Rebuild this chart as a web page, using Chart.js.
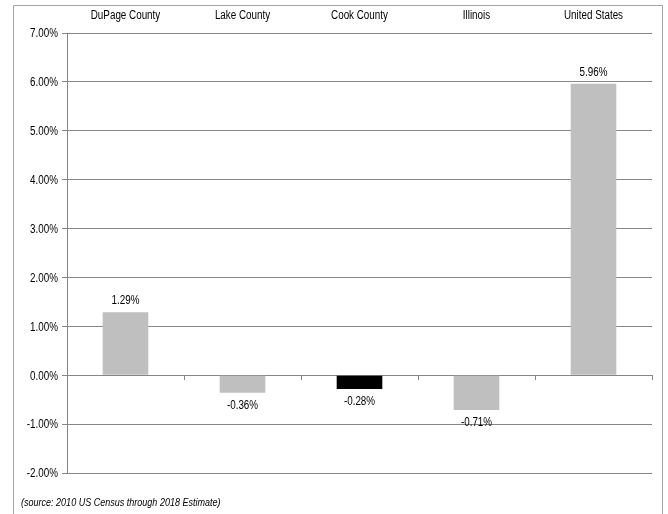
<!DOCTYPE html>
<html>
<head>
<meta charset="utf-8">
<script src="https://cdn.jsdelivr.net/npm/chart.js@4/dist/chart.umd.min.js"></script>
<style>
  html, body { margin: 0; padding: 0; background: #fff; }
  #wrap { position: relative; width: 668px; height: 514px; }
</style>
</head>
<body>
<div id="wrap"><canvas id="c" width="668" height="514"></canvas></div>
<script>
// Population change, 2010 to 2018 (percent)
const regions = ['DuPage County', 'Lake County', 'Cook County', 'Illinois', 'United States'];
const changePct = [1.29, -0.36, -0.28, -0.71, 5.96];
const barColors = ['#bfbfbf', '#bfbfbf', '#000000', '#bfbfbf', '#bfbfbf'];
const sourceNote = '(source: 2010 US Census through 2018 Estimate)';

const FONT = "'Liberation Sans', Arial, sans-serif";
const GRID = '#868686';
const NARROW = 0.82; // horizontal squeeze to get a narrow sans look

const fmtPct = v => v.toFixed(2) + '%';

// draw text squeezed horizontally around its anchor
function narrowText(ctx, text, x, y, align, font) {
  ctx.save();
  ctx.font = font;
  ctx.textAlign = align;
  ctx.textBaseline = 'middle';
  ctx.fillStyle = '#000';
  ctx.translate(x, y);
  ctx.scale(NARROW, 1);
  ctx.fillText(text, 0, 0);
  ctx.restore();
}

const frame = {
  id: 'frame',
  beforeDraw(chart) {
    const ctx = chart.ctx;
    ctx.save();
    ctx.strokeStyle = '#a6a6a6';
    ctx.lineWidth = 1;
    ctx.beginPath();
    ctx.moveTo(13.5, 520);
    ctx.lineTo(13.5, 5.5);
    ctx.lineTo(662.5, 5.5);
    ctx.lineTo(662.5, 520);
    ctx.stroke();
    ctx.restore();
  },
  afterDraw(chart) {
    const ctx = chart.ctx;
    const xs = chart.scales.x, ys = chart.scales.y;
    // category names along the top
    regions.forEach((name, i) => {
      narrowText(ctx, name, xs.getPixelForValue(i), 16, 'center', '12px ' + FONT);
    });
    // percent ticks on the left
    ys.ticks.forEach(t => {
      narrowText(ctx, fmtPct(t.value), 58, ys.getPixelForValue(t.value) + 1, 'right', '12px ' + FONT);
    });
    narrowText(ctx, sourceNote, 21, 503, 'left', 'italic 11px ' + FONT);
  }
};

const valueLabels = {
  id: 'valueLabels',
  afterDatasetsDraw(chart) {
    const ctx = chart.ctx;
    const meta = chart.getDatasetMeta(0);
    meta.data.forEach((bar, i) => {
      const v = changePct[i];
      const y = v >= 0 ? bar.y - 11 : bar.y + 13;
      narrowText(ctx, fmtPct(v), bar.x, y, 'center', '12px ' + FONT);
    });
  }
};

new Chart(document.getElementById('c'), {
  type: 'bar',
  data: {
    labels: regions,
    datasets: [{
      data: changePct,
      backgroundColor: barColors,
      borderWidth: 0,
      barPercentage: 0.39,
      categoryPercentage: 1.0
    }]
  },
  options: {
    responsive: false,
    animation: false,
    layout: { padding: { left: 0, right: 16, top: 0, bottom: 41 } },
    plugins: {
      legend: { display: false },
      tooltip: { enabled: false }
    },
    scales: {
      x: {
        position: 'top',
        grid: { display: false, drawTicks: false },
        border: { display: false },
        ticks: { display: false },
        afterFit(scale) { scale.height = 33; }
      },
      x2: {
        type: 'category',
        labels: regions,
        position: { y: 0 },
        grid: { offset: true, drawOnChartArea: false, drawTicks: true, tickLength: 4, color: GRID },
        border: { display: true, color: GRID },
        ticks: { display: false }
      },
      y: {
        min: -2,
        max: 7,
        ticks: { display: false, stepSize: 1 },
        grid: { color: GRID, tickLength: 5 },
        border: { display: true, color: GRID },
        afterFit(scale) { scale.width = 67; }
      }
    }
  },
  plugins: [frame, valueLabels]
});
</script>
</body>
</html>
